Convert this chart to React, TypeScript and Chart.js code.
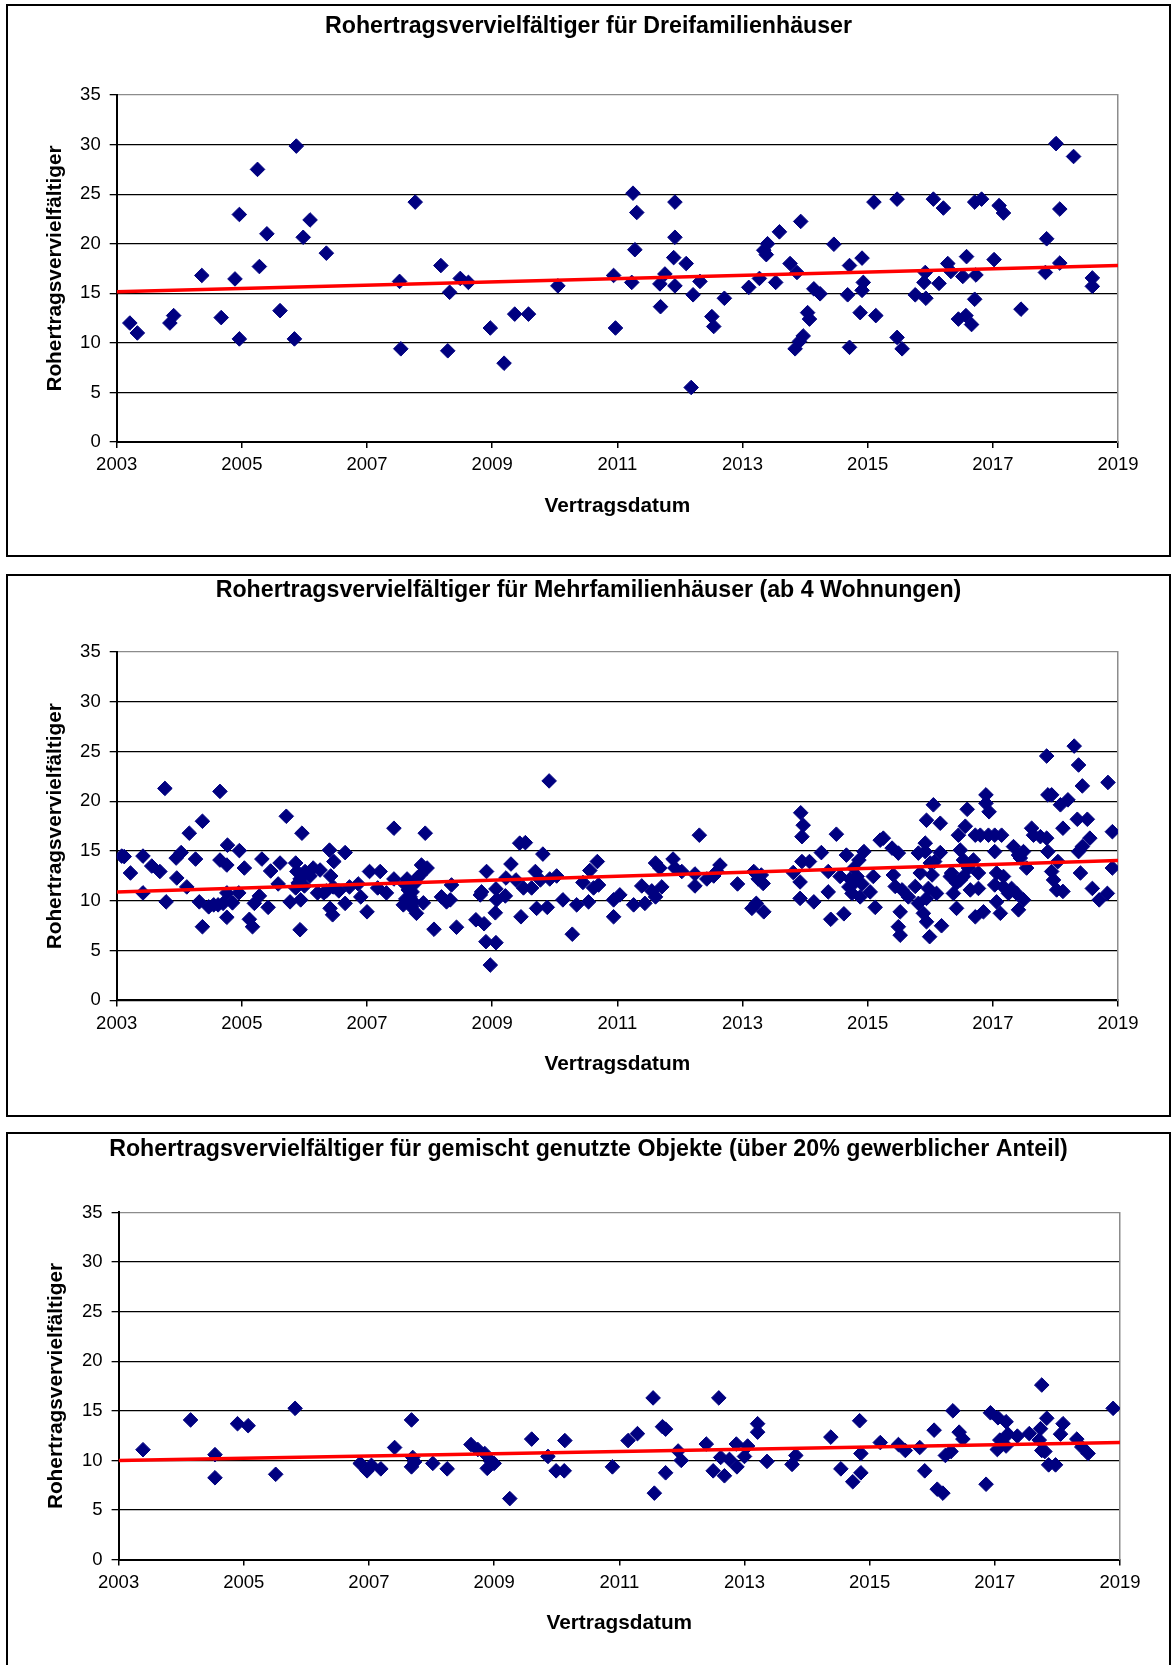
import React, { useEffect, useRef } from "react";
import { Chart, registerables } from "chart.js";

Chart.register(...registerables);

const FONT = '"Liberation Sans", Arial, Helvetica, sans-serif';

// ---- shared axis data ----
const yearTicks = [2003, 2005, 2007, 2009, 2011, 2013, 2015, 2017, 2019];
const yearLabels = ["2003", "2005", "2007", "2009", "2011", "2013", "2015", "2017", "2019"];
const valueTicks = [0, 5, 10, 15, 20, 25, 30, 35];
const xAxisTitle = "Vertragsdatum";
const yAxisTitle = "Rohertragsvervielfältiger";

// ---- Panel 1: Dreifamilienhäuser ----
const dreiTitle = "Rohertragsvervielfältiger für Dreifamilienhäuser";
const dreiDates = [
  2003.21, 2003.33, 2003.85, 2003.91, 2004.36, 2004.67, 2004.89, 2004.96, 2004.96, 2005.25,
  2005.28, 2005.4, 2005.61, 2005.84, 2005.87, 2005.98, 2006.09, 2006.35, 2007.52, 2007.54,
  2007.77, 2008.18, 2008.29, 2008.32, 2008.49, 2008.62, 2008.97, 2009.19, 2009.36, 2009.58,
  2010.05, 2010.94, 2010.97, 2011.23, 2011.25, 2011.31, 2011.28, 2011.69, 2011.68, 2011.76,
  2011.92, 2011.92, 2011.9, 2011.92, 2012.1, 2012.18, 2012.21, 2012.32, 2012.51, 2012.54,
  2012.71, 2013.1, 2013.27, 2013.34, 2013.38, 2013.4, 2013.59, 2013.53, 2013.76, 2013.87,
  2013.93, 2013.84, 2013.91, 2013.97, 2014.04, 2014.07, 2014.14, 2014.24, 2014.46, 2014.68,
  2014.71, 2014.71, 2014.91, 2014.93, 2014.91, 2014.88, 2015.1, 2015.13, 2015.47, 2015.47,
  2015.55, 2015.76, 2015.92, 2015.9, 2015.93, 2016.05, 2016.21, 2016.14, 2016.28, 2016.33,
  2016.45, 2016.52, 2016.58, 2016.57, 2016.66, 2016.73, 2016.71, 2016.71, 2016.82, 2017.02,
  2017.1, 2017.17, 2017.45, 2017.84, 2017.86, 2018.01, 2018.07, 2018.07, 2018.29, 2018.59,
  2018.59,
];
const dreiValues = [
  12.0, 11.0, 12.0, 12.75, 16.8, 12.55, 16.45, 22.95, 10.4, 27.5,
  17.7, 21.0, 13.25, 10.4, 29.85, 20.65, 22.4, 19.05, 16.2, 9.4,
  24.2, 17.8, 9.2, 15.1, 16.5, 16.1, 11.5, 7.95, 12.9, 12.9,
  15.75, 16.8, 11.5, 16.1, 25.1, 23.15, 19.4, 13.65, 15.95, 16.95,
  24.2, 20.65, 18.6, 15.75, 18.0, 5.5, 14.85, 16.2, 12.65, 11.65,
  14.5, 15.6, 16.5, 19.35, 18.9, 20.0, 21.2, 16.1, 18.0, 17.1,
  22.25, 9.4, 10.15, 10.7, 13.05, 12.4, 15.45, 14.95, 19.95, 14.85,
  9.55, 17.8, 18.55, 16.1, 15.3, 13.05, 24.2, 12.75, 24.5, 10.55,
  9.4, 14.85, 17.1, 16.1, 14.5, 24.5, 23.6, 16.0, 18.0, 17.2,
  12.4, 16.7, 18.7, 12.75, 11.85, 16.85, 14.4, 24.2, 24.5, 18.4,
  23.85, 23.1, 13.4, 17.1, 20.5, 30.1, 23.5, 18.05, 28.8, 16.55,
  15.7,
];
const dreiTrendDates = [2003, 2019];
const dreiTrendValues = [15.15, 17.8];

// ---- Panel 2: Mehrfamilienhäuser ----
const mehrTitle = "Rohertragsvervielfältiger für Mehrfamilienhäuser (ab 4 Wohnungen)";
const mehrDates = [
  2003.08, 2003.12, 2003.22, 2003.42, 2003.42, 2003.56, 2003.69, 2003.77, 2003.79, 2003.95,
  2003.96, 2004.03, 2004.12, 2004.16, 2004.37, 2004.26, 2004.32, 2004.37, 2004.47, 2004.55,
  2004.65, 2004.65, 2004.76, 2004.77, 2004.76, 2004.7, 2004.76, 2004.96, 2004.95, 2005.04,
  2005.12, 2005.17, 2005.2, 2005.32, 2005.28, 2005.42, 2005.46, 2005.61, 2005.58, 2005.71,
  2005.77, 2005.86, 2005.88, 2005.93, 2005.96, 2005.93, 2005.94, 2005.86, 2006.01, 2006.14,
  2006.09, 2006.21, 2006.31, 2006.4, 2006.42, 2006.47, 2006.41, 2006.45, 2006.46, 2006.65,
  2006.65, 2006.72, 2006.86, 2006.9, 2007.0, 2007.04, 2004.62, 2004.85, 2005.9, 2006.0,
  2006.25, 2006.55, 2006.35,
  2007.21, 2007.17, 2007.31, 2007.43, 2007.43, 2007.58, 2007.64, 2007.66, 2007.69, 2007.71,
  2007.74, 2007.79, 2007.87, 2007.93, 2007.9, 2007.85, 2007.96, 2008.07, 2008.19, 2008.27,
  2008.35, 2008.33, 2008.43, 2008.74, 2008.87, 2008.91, 2008.83, 2008.81, 2008.9, 2009.06,
  2008.97, 2009.06, 2009.05, 2009.07, 2009.22, 2009.21, 2009.3, 2009.38, 2009.44, 2009.53,
  2009.46, 2009.5, 2009.69, 2009.63, 2009.71, 2009.81, 2009.77, 2009.88, 2009.91, 2009.92,
  2010.03, 2010.13, 2010.28, 2010.35, 2010.45, 2010.56, 2010.62, 2010.68, 2010.7, 2010.54,
  2010.94, 2010.94, 2011.04, 2007.6, 2007.72, 2007.77, 2007.62, 2007.8,
  2011.26, 2011.39, 2011.44, 2011.55, 2011.61, 2011.71, 2011.61, 2011.68, 2011.89, 2011.92,
  2012.03, 2012.24, 2012.24, 2012.31, 2012.43, 2012.54, 2012.64, 2012.59, 2012.92, 2013.15,
  2013.18, 2013.22, 2013.25, 2013.33, 2013.34, 2013.3, 2013.81, 2013.93, 2013.97, 2013.95,
  2013.95, 2013.92, 2013.92, 2014.07, 2014.14, 2014.26, 2014.37, 2014.37, 2014.41, 2014.5,
  2014.56, 2014.62, 2014.66, 2014.7, 2014.75, 2014.83, 2014.86, 2014.94, 2014.91, 2014.78,
  2014.8, 2014.88, 2014.72,
  2015.09, 2015.04, 2015.12, 2015.2, 2015.25, 2015.39, 2015.49, 2015.41, 2015.44, 2015.52,
  2015.49, 2015.52, 2015.55, 2015.65, 2015.76, 2015.81, 2015.89, 2015.94, 2015.99, 2015.94,
  2015.81, 2015.92, 2015.94, 2016.05, 2016.16, 2016.0, 2016.03, 2016.16, 2016.18, 2016.37,
  2016.42, 2016.34, 2016.45, 2016.48, 2016.53, 2016.59, 2016.56, 2016.48, 2016.64, 2016.61,
  2016.72, 2016.85, 2016.72, 2016.8, 2016.89, 2016.89, 2016.94, 2016.93, 2017.03, 2017.14,
  2017.03, 2017.06, 2017.03, 2017.12, 2017.06, 2017.17, 2017.33, 2017.41, 2017.49, 2017.3,
  2017.38, 2017.41, 2017.49, 2017.54, 2017.62, 2017.65, 2017.86, 2017.88, 2017.94, 2017.86,
  2017.88, 2017.94, 2018.02, 2018.12, 2018.04, 2018.08, 2018.2, 2018.12, 2018.3, 2018.37,
  2018.43, 2018.35, 2018.51, 2018.37, 2018.4, 2018.43, 2018.55, 2018.59, 2018.7, 2018.83,
  2018.84, 2018.91, 2018.91, 2017.76, 2017.97, 2016.32, 2016.42, 2016.53, 2016.69, 2016.77,
  2016.77, 2015.92, 2015.97, 2015.84, 2016.07, 2016.1, 2017.17, 2017.25, 2017.44,
];
const mehrValues = [
  14.5, 14.45, 12.8, 14.5, 10.8, 13.5, 12.95, 21.3, 9.9, 14.3,
  12.3, 14.85, 11.4, 16.8, 18.0, 14.2, 9.9, 7.4, 9.4, 9.6,
  21.0, 14.1, 13.6, 15.6, 10.8, 9.75, 8.35, 15.05, 10.8, 13.3,
  8.15, 7.4, 9.75, 14.2, 10.5, 9.35, 13.0, 13.8, 11.7, 18.5,
  9.9, 13.8, 12.95, 12.2, 16.8, 7.1, 10.1, 11.3, 12.95, 13.3,
  12.5, 10.8, 10.8, 15.1, 12.5, 13.95, 9.25, 8.6, 11.4, 14.85,
  9.75, 11.4, 11.7, 10.4, 8.9, 12.95, 9.6, 9.8, 11.8, 11.5,
  13.1, 11.0, 11.0,
  12.95, 11.3, 10.8, 17.3, 12.2, 9.6, 12.2, 11.1, 10.4, 9.4,
  9.9, 8.75, 13.6, 16.8, 9.8, 12.6, 13.3, 7.15, 10.4, 9.9,
  11.6, 10.1, 7.35, 8.1, 7.7, 12.95, 10.9, 10.6, 5.9, 5.8,
  3.55, 11.2, 8.8, 10.1, 12.3, 10.5, 13.7, 12.1, 15.8, 15.85,
  8.4, 11.3, 12.95, 11.3, 9.25, 14.7, 12.1, 9.35, 22.05, 12.2,
  12.5, 10.1, 6.65, 9.6, 11.85, 13.05, 11.3, 13.95, 11.6, 9.9,
  10.1, 8.4, 10.6, 11.7, 10.9, 11.8, 10.2, 12.3,
  9.6, 11.5, 9.75, 11.0, 10.4, 11.4, 13.8, 13.3, 14.2, 13.3,
  12.95, 12.7, 11.5, 16.6, 12.2, 12.5, 13.6, 12.95, 11.7, 9.25,
  12.95, 9.75, 12.2, 11.75, 8.9, 12.6, 12.85, 18.85, 17.6, 16.45,
  13.95, 11.9, 10.25, 13.95, 9.9, 14.85, 12.95, 10.9, 8.15, 16.7,
  12.45, 8.7, 14.6, 11.4, 10.75, 12.45, 14.1, 14.95, 11.7, 13.3,
  11.9, 10.4, 12.2,
  12.45, 10.9, 9.35, 16.1, 16.3, 15.3, 14.8, 12.6, 11.45, 8.9,
  7.4, 6.55, 11.1, 10.4, 11.45, 9.75, 8.75, 7.9, 6.4, 10.25,
  14.8, 15.8, 18.1, 19.65, 17.8, 13.8, 12.6, 14.85, 7.5, 10.75,
  9.25, 12.8, 16.6, 15.1, 14.1, 19.2, 17.5, 12.1, 11.1, 13.3,
  8.4, 8.9, 16.6, 16.6, 20.65, 19.8, 18.95, 16.6, 16.6, 16.6,
  14.95, 12.8, 11.6, 8.75, 9.9, 12.45, 15.45, 14.6, 14.95, 11.25,
  10.75, 9.1, 10.1, 13.3, 17.3, 16.6, 24.55, 20.65, 20.65, 16.3,
  14.95, 12.95, 11.1, 10.95, 13.95, 19.65, 20.15, 17.3, 25.55, 23.65,
  21.55, 18.2, 18.2, 14.95, 12.8, 15.45, 16.3, 11.25, 10.1, 10.75,
  21.9, 16.95, 13.3, 16.45, 12.1, 12.45, 11.8, 12.45, 14.1, 12.8,
  11.25, 14.95, 11.25, 12.8, 13.95, 10.75, 11.4, 10.75, 14.3,
];
const mehrTrendDates = [2003, 2019];
const mehrTrendValues = [10.9, 14.05];

// ---- Panel 3: gemischt genutzte Objekte ----
const gemTitle = "Rohertragsvervielfältiger für gemischt genutzte Objekte (über 20% gewerblicher Anteil)";
const gemDates = [
  2003.39, 2004.15, 2004.54, 2004.54, 2004.9, 2005.07, 2005.51, 2005.82, 2006.86, 2006.97,
  2007.04, 2007.19, 2007.41, 2007.68, 2007.7, 2007.68, 2007.73, 2008.02, 2008.25, 2008.63,
  2008.74, 2008.85, 2008.89, 2008.95, 2009.0, 2009.25, 2009.6, 2009.86, 2009.99, 2010.13,
  2010.12, 2010.89, 2011.14, 2011.29, 2011.54, 2011.56, 2011.69, 2011.74, 2011.74, 2011.94,
  2011.99, 2012.39, 2012.5, 2012.59, 2012.62, 2012.68, 2012.76, 2012.87, 2012.88, 2013.0,
  2013.05, 2013.21, 2013.21, 2013.36, 2013.76, 2013.82, 2014.38, 2014.54, 2014.73, 2014.84,
  2014.86, 2014.86, 2015.17, 2015.46, 2015.57, 2015.8, 2015.88, 2016.03, 2016.08, 2016.17,
  2016.21, 2016.3, 2016.33, 2016.43, 2016.49, 2016.86, 2016.93, 2017.04, 2017.05, 2017.18,
  2017.08, 2017.18, 2017.21, 2017.36, 2017.55, 2017.73, 2017.75, 2017.71, 2017.75, 2017.83,
  2017.8, 2017.86, 2017.97, 2018.05, 2018.09, 2018.31, 2018.39, 2018.49, 2018.89,
];
const gemValues = [
  11.08, 14.08, 10.58, 8.25, 13.7, 13.5, 8.6, 15.25, 9.7, 8.95,
  9.5, 9.15, 11.3, 14.08, 10.3, 9.35, 9.85, 9.7, 9.15, 11.6,
  11.1, 10.7, 9.2, 9.9, 9.7, 6.15, 12.15, 10.4, 8.95, 12.0,
  8.95, 9.35, 12.0, 12.7, 16.3, 6.7, 13.4, 13.15, 8.75, 10.95,
  10.0, 11.65, 8.95, 16.3, 10.3, 8.45, 10.1, 11.65, 9.35, 10.4,
  11.45, 13.7, 12.85, 9.9, 9.6, 10.5, 12.35, 9.15, 7.85, 14.0,
  10.7, 8.75, 11.8, 11.6, 11.0, 11.3, 8.95, 13.05, 7.1, 6.7,
  10.5, 10.9, 15.0, 12.85, 12.15, 7.6, 14.8, 11.1, 14.3, 13.9,
  12.05, 11.45, 12.65, 12.45, 12.7, 13.2, 17.6, 12.05, 11.0, 14.25,
  10.9, 9.55, 9.55, 12.65, 13.7, 12.15, 11.35, 10.7, 15.25,
];
const gemTrendDates = [2003, 2019];
const gemTrendValues = [10.0, 11.8];

type Layout = {
  boxTop: number;
  boxHeight: number;
  canvasHeight: number;
  titleTop: number;
  titleBottom: number;
  yWidth: number;
  rightWidth: number;
  xHeight: number;
  xTickPad: number;
  xTitleBottom: number;
  yTitleTop: number;
};

const layout1: Layout = {
  boxTop: 4, boxHeight: 553, canvasHeight: 549,
  titleTop: 7.1, titleBottom: 54.1,
  yWidth: 108.7, rightWidth: 51,
  xHeight: 113, xTickPad: 6, xTitleBottom: 36.5, yTitleTop: 35,
};
const layout2: Layout = {
  boxTop: 574, boxHeight: 543, canvasHeight: 539,
  titleTop: 1.1, titleBottom: 47.1,
  yWidth: 108.7, rightWidth: 51,
  xHeight: 114.6, xTickPad: 6.5, xTitleBottom: 38, yTitleTop: 35,
};
const layout3: Layout = {
  boxTop: 1132, boxHeight: 560, canvasHeight: 539,
  titleTop: 1.6, titleBottom: 49,
  yWidth: 110.6, rightWidth: 49,
  xHeight: 113.4, xTickPad: 6.5, xTitleBottom: 37.5, yTitleTop: 36,
};

function ScatterPanel(props: {
  title: string;
  dates: number[];
  values: number[];
  trendDates: number[];
  trendValues: number[];
  L: Layout;
}) {
  const { title, dates, values, trendDates, trendValues, L } = props;
  const ref = useRef<HTMLCanvasElement | null>(null);

  useEffect(() => {
    const canvas = ref.current;
    if (!canvas) return;
    const chart = new Chart(canvas, {
      type: "scatter",
      data: {
        datasets: [
          {
            label: "Trend",
            data: trendDates.map((d, i) => ({ x: d, y: trendValues[i] })),
            showLine: true,
            borderColor: "#ff0000",
            backgroundColor: "#ff0000",
            borderWidth: 3.5,
            pointRadius: 0,
            pointHoverRadius: 0,
            order: 0,
          },
          {
            label: "Werte",
            data: dates.map((d, i) => ({ x: d, y: values[i] })),
            pointStyle: "rectRot",
            pointRadius: 7.3,
            pointHoverRadius: 7.3,
            backgroundColor: "#000080",
            borderColor: "#000080",
            borderWidth: 1,
            order: 1,
          },
        ],
      },
      options: {
        animation: false,
        responsive: false,
        devicePixelRatio: 1,
        events: [],
        layout: { padding: 0 },
        plugins: {
          legend: { display: false },
          tooltip: { enabled: false },
          title: {
            display: true,
            text: title,
            color: "#000",
            font: { family: FONT, size: 23.2, weight: "bold", lineHeight: 1.2 },
            padding: { top: L.titleTop, bottom: L.titleBottom },
          },
        },
        scales: {
          x: {
            type: "linear",
            position: "bottom",
            min: yearTicks[0],
            max: yearTicks[yearTicks.length - 1],
            afterBuildTicks: (s: any) => {
              s.ticks = yearTicks.map((v) => ({ value: v }));
            },
            afterFit: (s: any) => {
              s.height = L.xHeight;
            },
            ticks: {
              color: "#000",
              font: { family: FONT, size: 18.5, lineHeight: 1.2 },
              padding: L.xTickPad,
              maxRotation: 0,
              autoSkip: false,
              callback: (_v: any, i: number) => yearLabels[i],
            },
            grid: {
              drawOnChartArea: false,
              drawTicks: true,
              tickLength: 6,
              color: "#000",
              lineWidth: 1.5,
            },
            border: { display: true, color: "#000", width: 2 },
            title: {
              display: true,
              text: xAxisTitle,
              color: "#000",
              font: { family: FONT, size: 20.8, weight: "bold", lineHeight: 1.2 },
              padding: { top: 0, bottom: L.xTitleBottom },
            },
          },
          y: {
            type: "linear",
            position: "left",
            min: valueTicks[0],
            max: valueTicks[valueTicks.length - 1],
            afterBuildTicks: (s: any) => {
              s.ticks = valueTicks.map((v) => ({ value: v }));
            },
            afterFit: (s: any) => {
              s.width = L.yWidth;
            },
            ticks: {
              color: "#000",
              font: { family: FONT, size: 18.5, lineHeight: 1.2 },
              padding: 9,
              callback: (v: any) => String(v),
            },
            grid: {
              drawOnChartArea: true,
              drawTicks: true,
              tickLength: 7,
              color: (ctx: any) =>
                ctx.tick && ctx.tick.value === valueTicks[valueTicks.length - 1] ? "#8c8c8c" : "#000",
              tickColor: "#000",
              lineWidth: 1.3,
            },
            border: { display: true, color: "#000", width: 2 },
            title: {
              display: true,
              text: yAxisTitle,
              color: "#000",
              font: { family: FONT, size: 20.8, weight: "bold", lineHeight: 1.2 },
              padding: { top: L.yTitleTop, bottom: 0 },
            },
          },
          yR: {
            type: "linear",
            position: "right",
            display: true,
            afterFit: (s: any) => {
              s.width = L.rightWidth;
            },
            ticks: { display: false },
            grid: { display: false, drawTicks: false },
            border: { display: true, color: "#8c8c8c", width: 1.5 },
          },
        },
      } as any,
    });
    return () => chart.destroy();
  }, []);

  return (
    <>
      <div
        style={{
          position: "absolute",
          left: 6,
          top: L.boxTop,
          width: 1165,
          height: L.boxHeight,
          border: "2px solid #000",
          boxSizing: "border-box",
          background: "#fff",
        }}
      />
      <canvas
        ref={ref}
        width={1161}
        height={L.canvasHeight}
        style={{
          position: "absolute",
          left: 8,
          top: L.boxTop + 2,
          width: 1161,
          height: L.canvasHeight,
        }}
      />
    </>
  );
}

export default function App() {
  return (
    <div
      style={{
        position: "absolute",
        left: 0,
        top: 0,
        width: 1173,
        height: 1665,
        overflow: "hidden",
        background: "#fff",
      }}
    >
      <ScatterPanel
        title={dreiTitle}
        dates={dreiDates}
        values={dreiValues}
        trendDates={dreiTrendDates}
        trendValues={dreiTrendValues}
        L={layout1}
      />
      <ScatterPanel
        title={mehrTitle}
        dates={mehrDates}
        values={mehrValues}
        trendDates={mehrTrendDates}
        trendValues={mehrTrendValues}
        L={layout2}
      />
      <ScatterPanel
        title={gemTitle}
        dates={gemDates}
        values={gemValues}
        trendDates={gemTrendDates}
        trendValues={gemTrendValues}
        L={layout3}
      />
    </div>
  );
}
